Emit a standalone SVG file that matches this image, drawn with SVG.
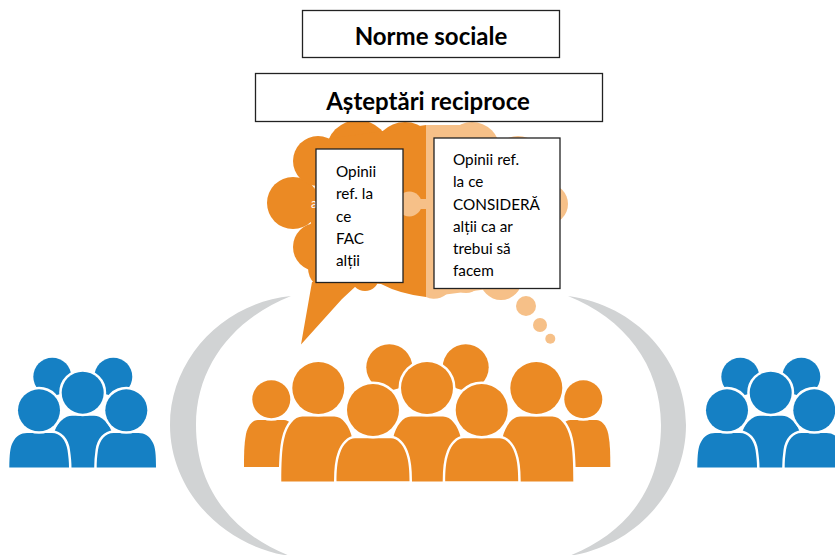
<svg xmlns="http://www.w3.org/2000/svg" xmlns:xlink="http://www.w3.org/1999/xlink" width="835" height="555" viewBox="0 0 835 555">
<style>
.o{fill:#EB8A24}
.l{fill:#F6C088}
.p{stroke:#fff;stroke-width:5;paint-order:stroke}
.b{fill:#1580C4}
.b .p{stroke-width:4}
.box{fill:#fff;stroke:#222;stroke-width:1.3}
.h{font-family:"Lato","Liberation Sans",sans-serif;font-weight:700;fill:#000;text-anchor:middle}
.t{font-family:"Lato","Open Sans","Liberation Sans",sans-serif;font-size:15.3px;fill:#000}
</style>
<defs>
<path id="big" d="M-37,65 C-37,48 -36.500,32 -34,22 C-31,9 -24,0 -16,0 L16,0 C24,0 31,9 34,22 C36.500,32 37,48 37,65 Z"/>
<path id="front" d="M-36.500,43 C-36.500,34 -36,23 -33,15 C-30,6 -24,0 -18,0 L18,0 C24,0 30,6 33,15 C36,23 36.500,34 36.500,43 Z"/>
<path id="small" d="M-27,47 C-27,35 -27,24 -25,14 C-23,5 -18,0 -13,0 L13,0 C18,0 23,5 25,14 C27,24 27,35 27,47 Z"/>
<g id="blue">
<circle class="p" cx="52.300" cy="376.700" r="19"/>
<circle class="p" cx="113.300" cy="376.700" r="19"/>
<path class="p" d="M45,467.500 L55,430 C58,422 65,415.700 72,415.700 L94,415.700 C101,415.700 108,422 111,430 L120,467.500 Z"/>
<circle class="p" cx="82.700" cy="392.700" r="21"/>
<path class="p" d="M9.300,467.500 C9.500,455 10,447 13,442 C16,436 21,433 27,433 L52,433 C60,433 66,440 67.500,450 C68.500,457 69,462 69,467.500 Z"/>
<path class="p" d="M96.700,467.500 C96.700,462 97,457 98,450 C99.500,440 105.500,433 113.500,433 L138.500,433 C144.500,433 149.500,436 152.500,442 C155.500,447 156,455 156,467.500 Z"/>
<circle class="p" cx="39" cy="410.300" r="21"/>
<circle class="p" cx="126.300" cy="410.300" r="21"/>
</g>
</defs>
<g id="ring" fill="#D1D3D4">
<path d="M291,296 C222,303 170,360 170,425 C170,490 222,546 290,556 C234,534 196,490 196,425 C196,365 235,318 291,296 Z"/>
<path d="M568,296 C636,305 686,360 686,425 C686,490 636,546 569,556 C625,534 661,490 661,425 C661,365 624,318 568,296 Z"/>
</g>
<g id="speech-cloud" class="o">
<path d="M312,282 L301,344.500 L342,299 L356,286 L356,270 Z"/>
<circle cx="293" cy="203" r="26"/>
<circle cx="318" cy="161" r="25"/>
<circle cx="317" cy="247" r="24"/>
<circle cx="330" cy="268" r="22"/>
<circle cx="365" cy="277" r="14"/>
<circle cx="358" cy="152" r="32"/>
<circle cx="405" cy="154" r="32"/>
<path d="M320,140 L426,125 L426,297 Q400,294 381,284 L330,280 L310,230 Z"/>
</g>
<g id="thought-cloud" class="l">
<path d="M426,125 L470,125 L505,160 L520,140 L550,185 L550,225 L520,285 L426,297 Z"/>
<circle cx="472" cy="150" r="28"/>
<circle cx="518" cy="160" r="24"/>
<circle cx="548" cy="204" r="20"/>
<circle cx="501" cy="279" r="21"/>
<circle cx="466" cy="276" r="17"/>
<path d="M426,263 L442,263 A17,17 0 0 1 426,297 Z"/>
<circle cx="526" cy="306" r="10"/>
<circle cx="540" cy="325" r="7"/>
<circle cx="550.300" cy="338.700" r="5"/>
</g>
<g id="connector-blob" class="l">
<circle cx="409.300" cy="204" r="12.500"/>
<rect x="409" y="199" width="17" height="10"/>
</g>
<text x="311" y="208" font-family="Lato,sans-serif" font-size="13" fill="#fff">a</text>
<g id="group-center" class="o">
<circle class="p" cx="389.300" cy="367.300" r="23"/>
<circle class="p" cx="465.700" cy="367.300" r="23"/>
<use class="p" xlink:href="#small" href="#small" transform="translate(271,420)"/>
<use class="p" xlink:href="#small" href="#small" transform="translate(583.300,420)"/>
<circle class="p" cx="271.300" cy="399.300" r="19"/>
<circle class="p" cx="583.300" cy="399.300" r="19"/>
<use class="p" xlink:href="#big" href="#big" transform="translate(318.300,416.500)"/>
<use class="p" xlink:href="#big" href="#big" transform="translate(536.300,416.500)"/>
<use class="p" xlink:href="#big" href="#big" transform="translate(427,416.500)"/>
<circle class="p" cx="318.300" cy="388" r="26"/>
<circle class="p" cx="536.300" cy="388" r="26"/>
<circle class="p" cx="427" cy="388" r="26"/>
<use class="p" xlink:href="#front" href="#front" transform="translate(373,438.300)"/>
<use class="p" xlink:href="#front" href="#front" transform="translate(481.700,438.300)"/>
<circle class="p" cx="373" cy="410" r="26"/>
<circle class="p" cx="481.700" cy="410" r="26"/>
</g>
<g id="group-left" class="b"><use xlink:href="#blue" href="#blue"/></g>
<g id="group-right" class="b"><use xlink:href="#blue" href="#blue" transform="translate(688,0)"/></g>
<g id="norme-sociale">
<rect class="box" x="302.500" y="10.500" width="257" height="47"/>
<text class="h" x="431" y="45" font-size="24">Norme sociale</text>
</g>
<g id="asteptari-reciproce">
<rect class="box" x="255.500" y="73.500" width="347" height="48"/>
<text class="h" x="428" y="110" font-size="24">Așteptări reciproce</text>
</g>
<g id="opinii-fac">
<rect class="box" x="316" y="149" width="87" height="133.500"/>
<text class="t" x="336" y="177">Opinii</text>
<text class="t" x="336" y="199">ref. la</text>
<text class="t" x="336" y="221.500">ce</text>
<text class="t" x="336" y="243.500">FAC</text>
<text class="t" x="336" y="265.500">alții</text>
</g>
<g id="opinii-considera">
<rect class="box" x="434" y="138" width="126" height="150.500"/>
<text class="t" x="453" y="165">Opinii ref.</text>
<text class="t" x="453" y="187">la ce</text>
<text class="t" x="453" y="209.500">CONSIDERĂ</text>
<text class="t" x="453" y="232">alții ca ar</text>
<text class="t" x="453" y="254">trebui să</text>
<text class="t" x="453" y="276">facem</text>
</g>
</svg>
